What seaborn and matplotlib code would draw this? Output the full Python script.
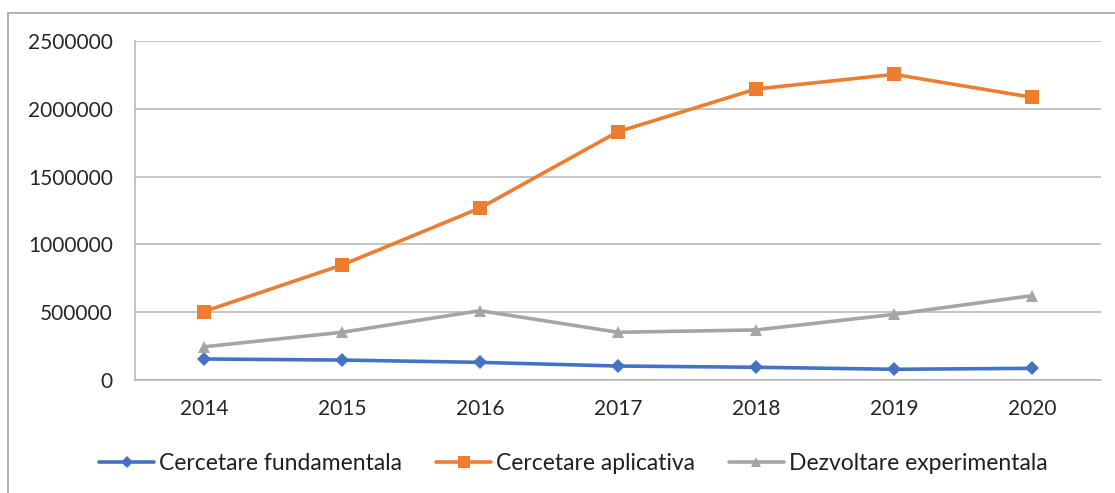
import pandas as pd
import matplotlib
matplotlib.use("Agg")
import matplotlib.pyplot as plt
import seaborn as sns
from matplotlib.lines import Line2D

years = ["2014", "2015", "2016", "2017", "2018", "2019", "2020"]
fundamentala = [155000, 147000, 130000, 103000, 94000, 79000, 86000]
aplicativa = [505000, 848000, 1268000, 1831000, 2146000, 2254000, 2085000]
experimentala = [245000, 352000, 511000, 352000, 369000, 484000, 622000]

series_names = ["Cercetare fundamentala", "Cercetare aplicativa", "Dezvoltare experimentala"]
colors = ["#4472C4", "#ED7D31", "#A5A5A5"]
markers = ["D", "s", "^"]
marker_sizes = [7, 9.5, 9]

df = pd.DataFrame({
    "an": years * 3,
    "valoare": fundamentala + aplicativa + experimentala,
    "serie": [series_names[0]] * 7 + [series_names[1]] * 7 + [series_names[2]] * 7,
})

sns.set_theme(style="white")
plt.rcParams["font.family"] = ["Lato", "DejaVu Sans"]

fig = plt.figure(figsize=(11.15, 4.93), dpi=100)
ax = fig.add_axes([135 / 1115, 1 - 380 / 493, (1101 - 135) / 1115, (380 - 41) / 493])

for name, col, mk, ms in zip(series_names, colors, markers, marker_sizes):
    sub = df[df["serie"] == name]
    sns.lineplot(data=sub, x="an", y="valoare", ax=ax, color=col, marker=mk,
                 markersize=ms, markeredgewidth=0, linewidth=2.6, label=name,
                 sort=False)

ax.set_xlim(-0.5, 6.5)
ax.set_ylim(0, 2500000)
ax.set_yticks([0, 500000, 1000000, 1500000, 2000000, 2500000])
ax.set_yticklabels(["0", "500000", "1000000", "1500000", "2000000", "2500000"])
ax.yaxis.grid(True, color="#B4B4B4", linewidth=1.1)
ax.set_axisbelow(True)
ax.set_xlabel("")
ax.set_ylabel("")
for side in ["top", "right"]:
    ax.spines[side].set_visible(False)
ax.spines["left"].set_color("#B4B4B4")
ax.spines["bottom"].set_color("#B4B4B4")
ax.spines["left"].set_linewidth(1.1)
ax.spines["bottom"].set_linewidth(1.1)
ax.tick_params(axis="y", length=0, pad=16, labelsize=15, labelcolor="#262626")
ax.tick_params(axis="x", length=0, pad=14, labelsize=15, labelcolor="#262626")

ax.get_legend().remove()
handles = [Line2D([], [], color=c, marker=m, markersize=s * 0.85, markeredgewidth=0, linewidth=2.6)
           for c, m, s in zip(colors, markers, marker_sizes)]
fig.legend(handles, series_names, loc="center", bbox_to_anchor=(0.514, 1 - 464 / 493),
           ncol=3, frameon=False, fontsize=16.5, handlelength=2.4, handletextpad=0.2,
           columnspacing=1.5, labelcolor="#202020")

# outer chart border (cropped on right and bottom)
bx, by = 8 / 1115, 1 - 13 / 493
fig.add_artist(Line2D([bx, bx], [0, by], transform=fig.transFigure, color="#A6A6A6", linewidth=1.2))
fig.add_artist(Line2D([bx, 1], [by, by], transform=fig.transFigure, color="#A6A6A6", linewidth=1.2))

fig.savefig("out.png", dpi=100)
